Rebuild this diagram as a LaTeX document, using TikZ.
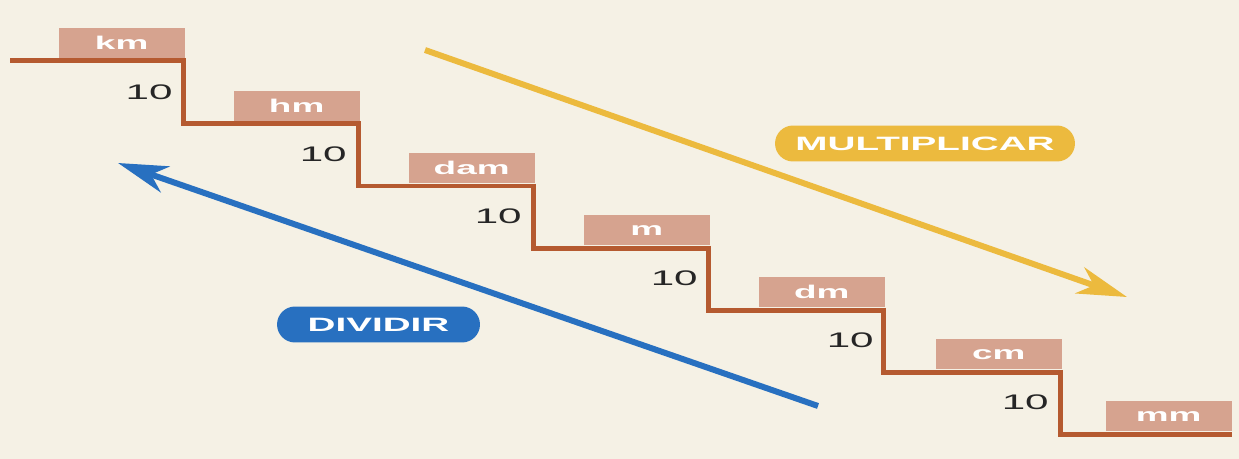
\documentclass[tikz,border=0pt]{standalone}
\usepackage{fontspec}
\newfontfamily\widesans[FakeStretch=2]{Liberation Sans}
\usetikzlibrary{arrows.meta,shapes.misc}
\definecolor{paper}{RGB}{245,241,229}
\definecolor{stair}{RGB}{181,90,48}
\definecolor{unitbox}{RGB}{214,163,143}
\definecolor{mult}{RGB}{236,186,62}
\definecolor{divi}{RGB}{40,112,192}
\tikzset{
  unit/.style={fill=unitbox, minimum width=2.52cm, minimum height=0.6cm, inner sep=0pt,
    text=white, font=\widesans\bfseries\fontsize{10.5}{12}\selectfont, anchor=south east},
  ten/.style={anchor=east, inner sep=0pt, text=black!85,
    font=\widesans\fontsize{12}{14}\selectfont},
  pill/.style={rounded rectangle, minimum height=0.72cm, inner sep=0pt, text=white,
    font=\widesans\bfseries\fontsize{11}{13}\selectfont},
  bigarrow/.style={line width=0.12cm, -{Stealth[length=1cm,width=0.55cm,inset=0.3cm]}}
}
\begin{document}
\begin{tikzpicture}[x=0.02cm, y=-0.02cm]
    % Paper
    \fill[paper] (0,0) rectangle (1239,459);
    \useasboundingbox (0,0) rectangle (1239,459);

    % Draw the staircase
    \draw[stair, line width=0.1cm] (10,61) -| (183,124) -| (358,186) -| (533,248)
        -| (708,310) -| (883,372) -| (1060,434) -- (1232,434);

    % Unit boxes on the steps
    \node[unit] (km) at (185,58.5) {km};
    \node[unit] (hm) at (360,121.5) {hm};
    \node[unit] (dam) at (535,183.5) {dam};
    \node[unit] (m) at (710,245.5) {m};
    \node[unit] (dm) at (885,307.5) {dm};
    \node[unit] (cm) at (1062,369.5) {cm};
    \node[unit] (mm) at (1232,431.5) {mm};

    % Factors
    \node[ten] (t1) at (173,92) {10};
    \node[ten] (t2) at (347,154) {10};
    \node[ten] (t3) at (522,216) {10};
    \node[ten] (t4) at (698,278) {10};
    \node[ten] (t5) at (874,340) {10};
    \node[ten] (t6) at (1049,402) {10};

    % Arrows
    \coordinate (mstart) at (425,50);
    \coordinate (mend) at (1127,297);
    \coordinate (dstart) at (818,406);
    \coordinate (dend) at (118,163);
    \draw[bigarrow, mult] (mstart) -- (mend);
    \draw[bigarrow, divi] (dstart) -- (dend);

    % Labels
    \node[pill, fill=mult, minimum width=6cm] (multiplicar) at (925,143.5) {MULTIPLICAR};
    \node[pill, fill=divi, minimum width=4.06cm] (dividir) at (378.5,324.5) {DIVIDIR};
\end{tikzpicture}
\end{document}
